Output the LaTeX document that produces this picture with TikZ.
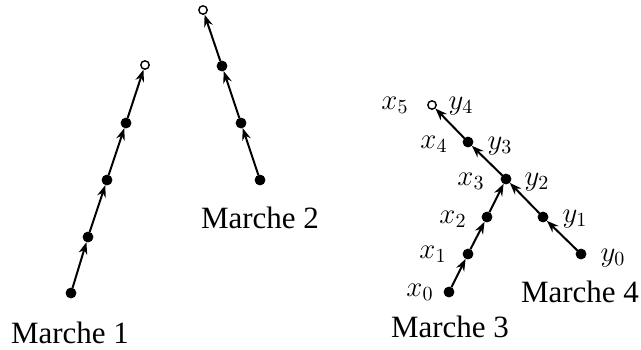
\documentclass[tikz,border=0pt]{standalone}
\usepackage{fontspec}
\setmainfont{Liberation Serif}
\usetikzlibrary{arrows.meta}
\begin{document}
\begin{tikzpicture}[x=0.5pt,y=-0.5pt,
  dot/.style={circle,fill=black,draw=black,inner sep=0pt,minimum size=5pt},
  odot/.style={circle,fill=white,draw=black,line width=0.7pt,inner sep=0pt,minimum size=4.2pt},
  arr/.style={line width=1pt,-{Stealth[length=6pt,width=4.4pt]}},
  captxt/.style={font=\fontsize{15.5}{18}\selectfont},
  lab/.style={font=\fontsize{14.5}{17}\selectfont,inner sep=0pt}]
\useasboundingbox (0,0) rectangle (641,349);
% Marche 1
\node[dot] (a0) at (71,293) {};
\node[dot] (a1) at (88,237) {};
\node[dot] (a2) at (107,180) {};
\node[dot] (a3) at (126,123) {};
\node[odot] (a4) at (145,65) {};
\draw[arr] (a0) -- (a1);
\draw[arr] (a1) -- (a2);
\draw[arr] (a2) -- (a3);
\draw[arr] (a3) -- (a4);
\node[captxt] (c1) at (70,333) {Marche 1};
% Marche 2
\node[dot] (b0) at (260,180) {};
\node[dot] (b1) at (241,123) {};
\node[dot] (b2) at (222,66) {};
\node[odot] (b3) at (203,10) {};
\draw[arr] (b0) -- (b1);
\draw[arr] (b1) -- (b2);
\draw[arr] (b2) -- (b3);
\node[captxt] (c2) at (260,218) {Marche 2};
% Marche 3 and 4
\node[dot] (x0) at (449,292) {};
\node[dot] (x1) at (468,254) {};
\node[dot] (x2) at (487,217) {};
\node[dot] (x3) at (506,179) {};
\node[dot] (x4) at (468,142) {};
\node[odot] (x5) at (432,105) {};
\node[dot] (y0) at (581,254) {};
\node[dot] (y1) at (543,217) {};
\draw[arr] (x0) -- (x1);
\draw[arr] (x1) -- (x2);
\draw[arr] (x2) -- (x3);
\draw[arr] (x3) -- (x4);
\draw[arr] (x4) -- (x5);
\draw[arr] (y0) -- (y1);
\draw[arr] (y1) -- (x3);
\node[lab] (lx0) at (420,292) {$x_0$};
\node[lab] (lx1) at (433,254) {$x_1$};
\node[lab] (lx2) at (453,219) {$x_2$};
\node[lab] (lx3) at (471,181) {$x_3$};
\node[lab] (lx4) at (434,144) {$x_4$};
\node[lab] (lx5) at (395,105) {$x_5$};
\node[lab] (ly4) at (461,106) {$y_4$};
\node[lab] (ly3) at (500,146) {$y_3$};
\node[lab] (ly2) at (537,182) {$y_2$};
\node[lab] (ly1) at (575,219) {$y_1$};
\node[lab] (ly0) at (613,258) {$y_0$};
\node[captxt] (c4) at (580,292) {Marche 4};
\node[captxt] (c3) at (450,327) {Marche 3};
\end{tikzpicture}
\end{document}
